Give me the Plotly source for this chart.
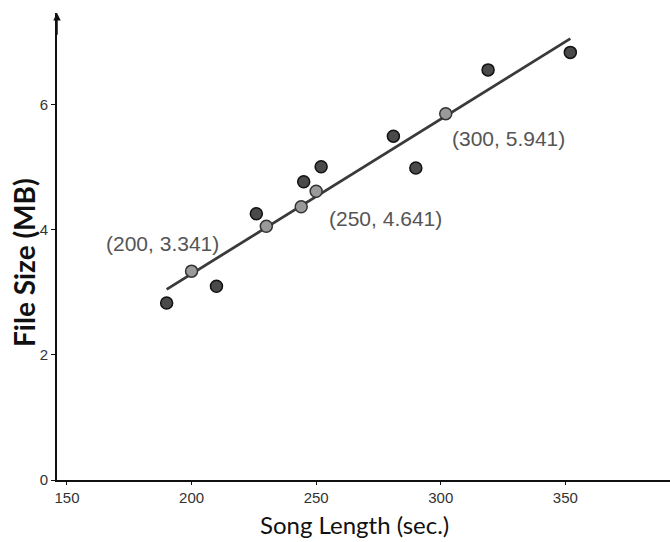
import plotly.graph_objects as go

# Observed data points (song length in sec, file size in MB)
song_len = [190, 210, 226, 245, 252, 281, 290, 319, 352]
file_size = [2.83, 3.10, 4.26, 4.77, 5.01, 5.50, 4.99, 6.56, 6.84]

# Points lying on the trend line
line_pts_x = [200, 230, 244, 250, 302]
line_pts_y = [3.341, 4.06, 4.37, 4.62, 5.86]

# Trend line end points
trend_x = [190, 352]
trend_y = [3.05, 7.06]

# Labels
label_text = ["(200, 3.341)", "(250, 4.641)", "(300, 5.941)"]
label_x = [188.5, 278.0, 327.0]
label_y = [3.79, 4.19, 5.46]

x_ticks = [150, 200, 250, 300, 350]
y_ticks = [0, 2, 4, 6]

x_title = "Song Length (sec.)"
y_title = "File Size (MB)"

fig = go.Figure()
fig.add_trace(go.Scatter(x=trend_x, y=trend_y, mode="lines",
                         line=dict(color="#3a3a3a", width=2.8),
                         showlegend=False, hoverinfo="skip"))
fig.add_trace(go.Scatter(x=line_pts_x, y=line_pts_y, mode="markers",
                         marker=dict(size=12, color="#9a9a9a",
                                     line=dict(color="#333333", width=1.5)),
                         showlegend=False))
fig.add_trace(go.Scatter(x=song_len, y=file_size, mode="markers",
                         marker=dict(size=12, color="#4a4a4a",
                                     line=dict(color="#111111", width=1.5)),
                         showlegend=False))

for t, lx, ly in zip(label_text, label_x, label_y):
    fig.add_annotation(x=lx, y=ly, text=t, showarrow=False,
                       font=dict(family="Liberation Sans, Arial", size=21, color="#555555"))

# arrow at top of y axis
fig.add_annotation(x=146, y=7.47, ax=146, ay=7.1, xref="x", yref="y",
                   axref="x", ayref="y", text="", showarrow=True,
                   arrowhead=2, arrowsize=1, arrowwidth=1.5, arrowcolor="#111111")

# axis titles
fig.add_annotation(x=354, y=524, xref="paper", yref="paper", text=x_title,
                   showarrow=False, xanchor="center", yanchor="middle",
                   font=dict(family="Lato", size=24, color="#111111"))
fig.add_annotation(x=24, y=263, xref="paper", yref="paper", text="<b>" + y_title + "</b>",
                   showarrow=False, textangle=-90, xanchor="center", yanchor="middle",
                   font=dict(family="Lato", size=28, color="#111111"))

fig.update_layout(
    width=670, height=542,
    margin=dict(l=57, r=0, t=13, b=62),
    paper_bgcolor="white", plot_bgcolor="white",
    font=dict(family="Liberation Sans, Arial", size=15, color="#333333"),
)
fig.update_xaxes(range=[146, 392], tickvals=x_ticks, showgrid=False, zeroline=False,
                 showline=True, linecolor="#111111", linewidth=2,
                 ticks="outside", ticklen=3, tickcolor="#111111",
                 tickfont=dict(size=15, color="#333333"))
fig.update_yaxes(range=[0, 7.47], tickvals=y_ticks, showgrid=False, zeroline=False,
                 showline=True, linecolor="#111111", linewidth=2,
                 ticks="outside", ticklen=4, tickcolor="#111111",
                 tickfont=dict(size=15, color="#333333"))

# convert paper-pixel positions of titles to paper fractions
plot_l, plot_r, plot_t, plot_b = 57, 670, 13, 480
for ann in fig.layout.annotations:
    if ann.xref == "paper":
        ann.x = (ann.x - plot_l) / (plot_r - plot_l)
        ann.y = (plot_b - ann.y) / (plot_b - plot_t)

fig.write_html("out.html")
